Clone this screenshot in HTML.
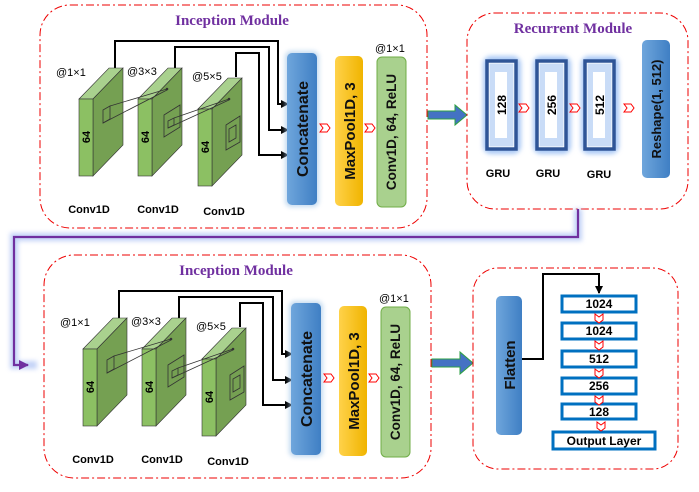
<!DOCTYPE html>
<html><head><meta charset="utf-8">
<style>
html,body{margin:0;padding:0;background:#fff;}
svg{display:block;font-family:"Liberation Sans",sans-serif;}
.t{font-family:"Liberation Serif",serif;font-weight:bold;fill:#7030a0;font-size:15px;}
</style></head><body>
<svg width="699" height="492" viewBox="0 0 699 492" xmlns="http://www.w3.org/2000/svg">
<defs>
<linearGradient id="bl" x1="0" x2="1"><stop offset="0" stop-color="#6fa6dc"/><stop offset="1" stop-color="#3f7fc4"/></linearGradient>
<linearGradient id="yl" x1="0" x2="1"><stop offset="0" stop-color="#ffd24a"/><stop offset="1" stop-color="#f0b400"/></linearGradient>
<filter id="gl" x="-50%" y="-50%" width="200%" height="200%"><feGaussianBlur stdDeviation="2.5"/></filter>
<marker id="ar" markerWidth="8" markerHeight="8" refX="7" refY="4" orient="auto" markerUnits="userSpaceOnUse"><path d="M0,0 L8,4 L0,8 z" fill="#000"/></marker>
<marker id="ap" markerWidth="10" markerHeight="10" refX="9" refY="5" orient="auto" markerUnits="userSpaceOnUse"><path d="M0,0 L10,5 L0,10 z" fill="#7030a0"/></marker>
<g id="chev"><path d="M0,-4 L7,-4 L10,0 L7,4 L0,4 L3,0 z" fill="#fff" stroke="#f00" stroke-width="1"/></g>
<g id="chevd"><path d="M-4,0 L-4,6 L0,9 L4,6 L4,0 L0,3 z" fill="#fff" stroke="#f00" stroke-width="1"/></g>
<g id="blk">
 <polygon points="0,0 14,0 44,-31 30,-31" fill="#a9d18e" stroke="#333" stroke-width="0.6"/>
 <polygon points="14,0 44,-31 44,46 14,77" fill="#75a052" stroke="#333" stroke-width="0.6"/>
 <rect x="0" y="0" width="14" height="77" fill="#8cc063" stroke="#333" stroke-width="0.6"/>
</g>
<g id="inc">
 <rect x="40" y="5" width="387" height="223" rx="30" fill="none" stroke="#e00" stroke-width="1" stroke-dasharray="8,3,2,3"/>
 <text class="t" x="232" y="25" text-anchor="middle">Inception  Module</text>
 <g fill="none" stroke="#000" stroke-width="2">
  <polyline points="115,68 115,41 278,41 278,104 288,104" marker-end="url(#ar)"/>
  <polyline points="175,68 175,47 269,47 269,130 288,130" marker-end="url(#ar)"/>
  <polyline points="236,77 236,53 259,53 259,155 288,155" marker-end="url(#ar)"/>
 </g>
 <use href="#blk" x="79" y="99"/>
 <use href="#blk" x="138" y="99"/>
 <use href="#blk" x="198" y="109"/>
 <g fill="none" stroke="#333" stroke-width="0.8">
  <polygon points="103,110 110,106 110,119 103,123"/>
  <line x1="110" y1="106" x2="167" y2="89"/><line x1="103" y1="123" x2="167" y2="90"/>
  <polygon points="164,115 180,105 180,127 164,137"/>
  <polygon points="168,121 174,118 174,125 168,128"/>
  <line x1="174" y1="118" x2="229" y2="99"/><line x1="168" y1="128" x2="229" y2="100"/>
  <polygon points="226,125 240,116 240,142 226,150"/>
  <polygon points="229,129 236,125 236,138 229,142"/>
 </g>
 <circle cx="167" cy="89" r="1.3" fill="#333"/><circle cx="229" cy="99" r="1.3" fill="#333"/>
 <g font-size="11" font-weight="bold">
  <text x="90" y="137" transform="rotate(-90 90 137)" text-anchor="middle">64</text>
  <text x="149" y="137" transform="rotate(-90 149 137)" text-anchor="middle">64</text>
  <text x="209" y="147" transform="rotate(-90 209 147)" text-anchor="middle">64</text>
 </g>
 <g font-size="11" fill="#000">
  <text x="56" y="76">@1×1</text><text x="127" y="75">@3×3</text><text x="192" y="80">@5×5</text>
  <text x="375" y="52">@1×1</text>
 </g>
 <g font-size="11" font-weight="bold">
  <text x="89" y="213" text-anchor="middle">Conv1D</text>
  <text x="158" y="213" text-anchor="middle">Conv1D</text>
  <text x="224" y="215" text-anchor="middle">Conv1D</text>
 </g>
 <rect x="285" y="51" width="34" height="156" rx="6" fill="#9dc3e6" filter="url(#gl)" opacity="0.6"/>
 <rect x="287" y="53" width="30" height="152" rx="5" fill="url(#bl)"/>
 <text x="308" y="129" transform="rotate(-90 308 129)" text-anchor="middle" font-size="16" font-weight="bold" fill="#111">Concatenate</text>
 <rect x="335" y="56" width="28" height="150" rx="5" fill="url(#yl)"/>
 <text x="355" y="131" transform="rotate(-90 355 131)" text-anchor="middle" font-size="15" font-weight="bold" fill="#111">MaxPool1D, 3</text>
 <rect x="377" y="57" width="29" height="150" rx="5" fill="#a9d18e" stroke="#70ad47" stroke-width="1"/>
 <text x="396" y="132" transform="rotate(-90 396 132)" text-anchor="middle" font-size="13.5" font-weight="bold" fill="#111">Conv1D, 64, ReLU</text>
 <use href="#chev" x="320" y="128"/>
 <use href="#chev" x="365" y="128"/>
</g>
</defs>

<use href="#inc"/>
<use href="#inc" x="4" y="250"/>

<path d="M428,111 L455,111 L455,105 L467,115 L455,125 L455,119 L428,119 z" fill="#4472c4" stroke="#2ea043" stroke-width="1"/>
<path d="M432,359 L460,359 L460,352 L473,363 L460,374 L460,367 L432,367 z" fill="#4472c4" stroke="#2ea043" stroke-width="1"/>

<rect x="467" y="13" width="221" height="196" rx="28" fill="none" stroke="#e00" stroke-width="1" stroke-dasharray="8,3,2,3"/>
<text class="t" x="573" y="33" text-anchor="middle">Recurrent  Module</text>
<g>
 <rect x="483" y="56" width="38" height="98" rx="8" fill="#a9c8f5" filter="url(#gl)"/>
 <rect x="487" y="61" width="29" height="88" fill="#fff" stroke="#2f5597" stroke-width="3.5"/>
 <rect x="533" y="56" width="38" height="98" rx="8" fill="#a9c8f5" filter="url(#gl)"/>
 <rect x="537" y="61" width="29" height="88" fill="#fff" stroke="#2f5597" stroke-width="3.5"/>
 <rect x="581" y="56" width="38" height="98" rx="8" fill="#a9c8f5" filter="url(#gl)"/>
 <rect x="585" y="61" width="29" height="88" fill="#fff" stroke="#2f5597" stroke-width="3.5"/>
 <rect x="489.5" y="63.5" width="24" height="83" fill="#c9dcf7"/>
 <rect x="539.5" y="63.5" width="24" height="83" fill="#c9dcf7"/>
 <rect x="587.5" y="63.5" width="24" height="83" fill="#c9dcf7"/>
 <rect x="495" y="72" width="12" height="66" fill="#fff"/>
 <rect x="545" y="72" width="12" height="66" fill="#fff"/>
 <rect x="593" y="72" width="12" height="66" fill="#fff"/>
 <g font-size="12" font-weight="bold">
  <text x="506" y="105" transform="rotate(-90 506 105)" text-anchor="middle">128</text>
  <text x="556" y="105" transform="rotate(-90 556 105)" text-anchor="middle">256</text>
  <text x="604" y="105" transform="rotate(-90 604 105)" text-anchor="middle">512</text>
 </g>
 <use href="#chev" x="519" y="108"/>
 <use href="#chev" x="570" y="108"/>
 <use href="#chev" x="624" y="108"/>
 <g font-size="11" font-weight="bold">
  <text x="498" y="177" text-anchor="middle">GRU</text>
  <text x="548" y="177" text-anchor="middle">GRU</text>
  <text x="599" y="178" text-anchor="middle">GRU</text>
 </g>
 <rect x="642" y="40" width="28" height="138" rx="5" fill="url(#bl)"/>
 <text x="661" y="109" transform="rotate(-90 661 109)" text-anchor="middle" font-size="13" font-weight="bold" fill="#111">Reshape(1, 512)</text>
</g>

<polyline points="578,209 578,237 14,237 14,365 37,365" fill="none" stroke="#b4c7f5" stroke-width="8" opacity="0.8" filter="url(#gl)"/>
<polyline points="578,209 578,237 14,237 14,365 28,365" fill="none" stroke="#7030a0" stroke-width="2.2" marker-end="url(#ap)"/>

<rect x="473" y="268" width="205" height="201" rx="25" fill="none" stroke="#e00" stroke-width="1" stroke-dasharray="8,3,2,3"/>
<rect x="496" y="296" width="26" height="139" rx="5" fill="url(#bl)"/>
<text x="515" y="365" transform="rotate(-90 515 365)" text-anchor="middle" font-size="15" font-weight="bold" fill="#111">Flatten</text>
<polyline points="522,359 543,359 543,274 599,274 599,293" fill="none" stroke="#000" stroke-width="2" marker-end="url(#ar)"/>
<g fill="#fff" stroke="#0070c0" stroke-width="3">
 <rect x="562" y="296" width="74" height="16"/>
 <rect x="562" y="323" width="74" height="16"/>
 <rect x="562" y="351" width="74" height="16"/>
 <rect x="562" y="378" width="74" height="16"/>
 <rect x="562" y="404" width="74" height="15"/>
 <rect x="553" y="432" width="102" height="17"/>
</g>
<g font-size="12" font-weight="bold" text-anchor="middle">
 <text x="599" y="308">1024</text>
 <text x="599" y="335">1024</text>
 <text x="599" y="363">512</text>
 <text x="599" y="390">256</text>
 <text x="599" y="416">128</text>
 <text x="604" y="445">Output Layer</text>
</g>
<use href="#chevd" x="599" y="314"/>
<use href="#chevd" x="599" y="341"/>
<use href="#chevd" x="599" y="369"/>
<use href="#chevd" x="599" y="396"/>
<use href="#chevd" x="601" y="422"/>
</svg>
</body></html>
